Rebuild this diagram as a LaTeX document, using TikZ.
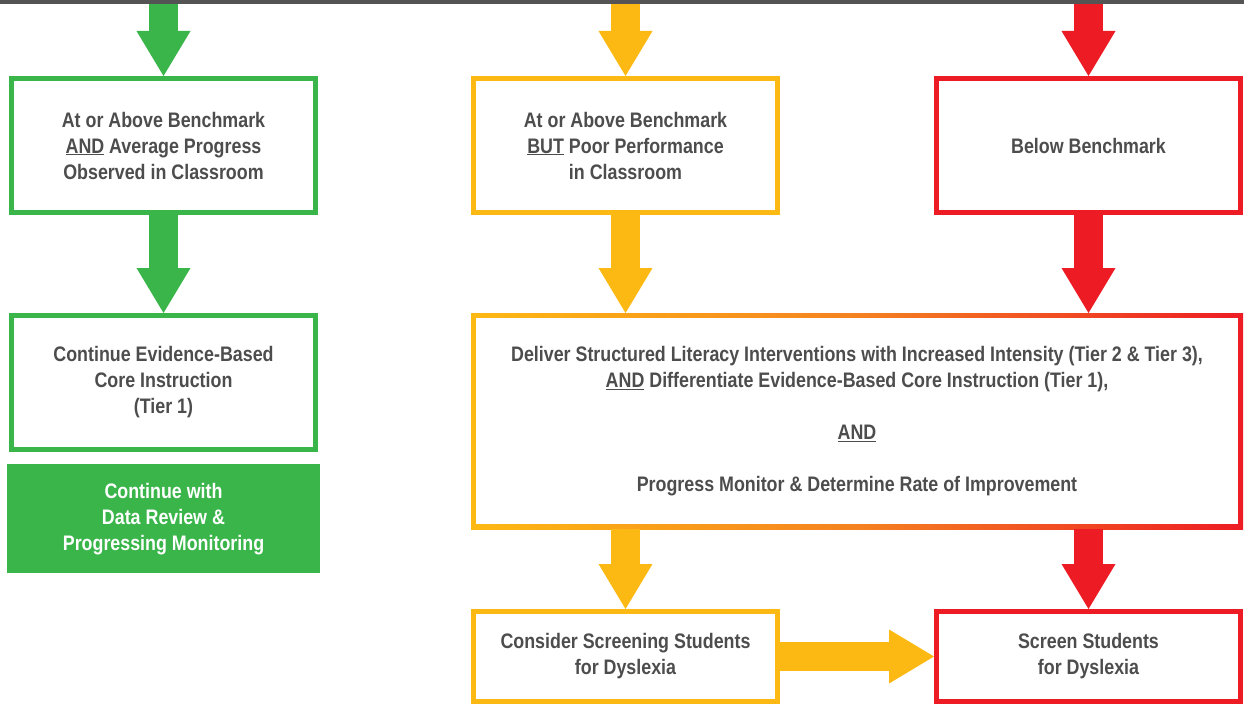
\documentclass[tikz,border=0pt]{standalone}
\usepackage{fontspec}
\newfontfamily\narrowsf{Liberation Sans}[FakeStretch=0.85]
\usetikzlibrary{arrows.meta,positioning}

\definecolor{greenc}{HTML}{39B54A}
\definecolor{yellowc}{HTML}{FDB913}
\definecolor{orangec}{HTML}{F58220}
\definecolor{redc}{HTML}{ED1C24}
\definecolor{textc}{HTML}{4D4D4D}
\definecolor{barc}{HTML}{545454}

\begin{document}
\begin{tikzpicture}[x=1pt,y=1pt,text=textc,
                    font=\narrowsf\bfseries\fontsize{21}{26}\selectfont]

  \tikzstyle{box}=[rectangle,draw,line width=5pt,fill=white,align=center,
                   inner sep=0pt,minimum width=304pt,minimum height=134pt]
  \tikzstyle{bigbox}=[rectangle,align=center,inner sep=0pt,outer sep=0pt,
                   minimum width=772pt,minimum height=216pt,
                   left color=yellowc,right color=redc,middle color=orangec,
                   path picture={\fill[white]
                     ([shift={(5pt,-5pt)}]path picture bounding box.north west) rectangle
                     ([shift={(-5pt,5pt)}]path picture bounding box.south east);}]
  \tikzstyle{fat}=[line width=29pt,
                   -{Triangle[width=54pt,length=45pt,line width=0pt]}]

  \useasboundingbox (0,0) rectangle (1244,-706);

  \node[fill=barc,inner sep=0pt,outer sep=0pt,minimum width=1244pt,
        minimum height=4.5pt,anchor=north west] (bar) at (0,0) {};

  \node[box,draw=greenc]  (AB) at (163.5,-145.5)
        {At or Above Benchmark\\ \underline{AND} Average Progress\\ Observed in Classroom};
  \node[box,draw=greenc]  (CI) [below=98pt of AB]
        {Continue Evidence-Based\\ Core Instruction\\ (Tier 1)};
  \node[fill=greenc,text=white,align=center,inner sep=0pt,
        minimum width=313pt,minimum height=109pt] (DR) [below=12pt of CI]
        {Continue with\\ Data Review \&\\ Progressing Monitoring};

  \node[box,draw=yellowc] (BP) [right=153pt of AB]
        {At or Above Benchmark\\ \underline{BUT} Poor Performance\\ in Classroom};
  \node[box,draw=redc]    (BB) [right=154pt of BP] {Below Benchmark};

  \node[bigbox] (DS) [below=98pt of BP.south west,anchor=north west]
        {Deliver Structured Literacy Interventions with Increased Intensity (Tier 2 \& Tier 3),\\
         \underline{AND} Differentiate Evidence-Based Core Instruction (Tier 1),\\[26pt]
         \underline{AND}\\[26pt]
         Progress Monitor \& Determine Rate of Improvement};

  \node[box,draw=yellowc,minimum height=90pt] (CS)
        [below=80pt of DS.south west,anchor=north west]
        {Consider Screening Students\\ for Dyslexia};
  \node[box,draw=redc,minimum height=90pt] (SD)
        [below=80pt of DS.south east,anchor=north east]
        {Screen Students\\ for Dyslexia};

  \path (bar.south -| AB) edge [fat,greenc]  (AB)
        (bar.south -| BP) edge [fat,yellowc] (BP)
        (bar.south -| BB) edge [fat,redc]    (BB)
        (AB)              edge [fat,greenc]  (CI)
        (BP)              edge [fat,yellowc] (BP |- DS.north)
        (BB)              edge [fat,redc]    (BB |- DS.north)
        (DS.south -| CS)  edge [fat,yellowc] (CS)
        (DS.south -| SD)  edge [fat,redc]    (SD)
        (CS)              edge [fat,yellowc] (SD);
\end{tikzpicture}
\end{document}
